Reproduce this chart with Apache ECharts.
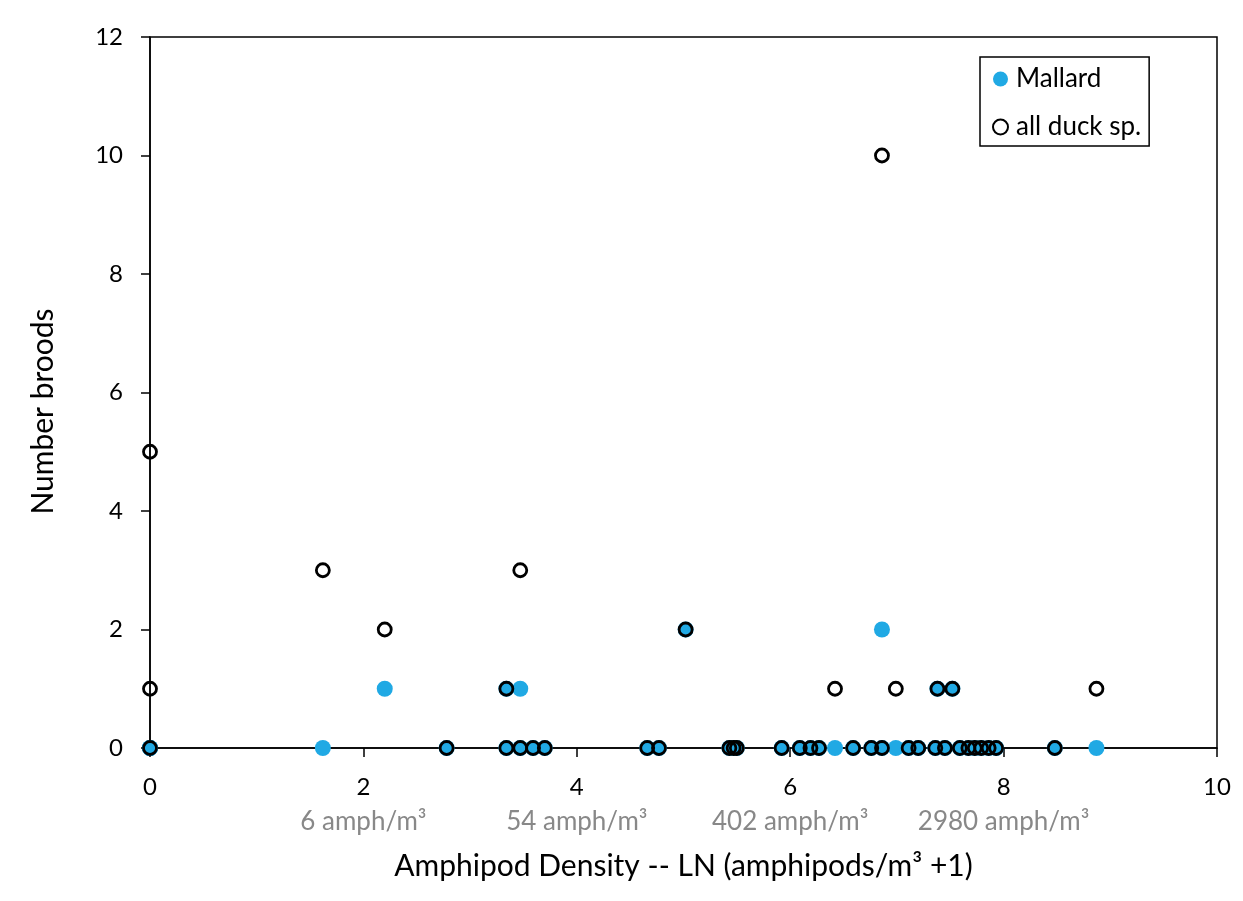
<!DOCTYPE html>
<html>
<head>
<meta charset="utf-8">
<script src="https://cdn.jsdelivr.net/npm/echarts@6/dist/echarts.min.js"></script>
<style>
html,body{margin:0;padding:0;background:#fff;}
#chart{width:1243px;height:901px;}
</style>
</head>
<body>
<div id="chart"></div>
<script>
// Per-site values: LN(amphipods/m3 + 1), Mallard broods, all duck broods
const siteX = [0, 0, 0, 1.62, 2.20, 2.78, 3.34, 3.34, 3.47, 3.47, 3.59, 3.70, 4.66, 4.77, 5.02,
  5.43, 5.47, 5.50, 5.92, 6.09, 6.19, 6.27, 6.42, 6.59, 6.76, 6.86, 6.86, 6.99, 7.11, 7.20,
  7.36, 7.45, 7.38, 7.52, 7.59, 7.67, 7.73, 7.79, 7.86, 7.93, 8.48, 8.87];
const mallardBroods = [0, 0, 0, 0, 1, 0, 1, 0, 1, 0, 0, 0, 0, 0, 2,
  0, 0, 0, 0, 0, 0, 0, 0, 0, 0, 0, 2, 0, 0, 0,
  0, 0, 1, 1, 0, 0, 0, 0, 0, 0, 0, 0];
const allDuckBroods = [5, 1, 0, 3, 2, 0, 1, 0, 3, 0, 0, 0, 0, 0, 2,
  0, 0, 0, 0, 0, 0, 0, 1, 0, 0, 0, 10, 1, 0, 0,
  0, 0, 1, 1, 0, 0, 0, 0, 0, 0, 0, 1];
const seriesNames = ['Mallard', 'all duck sp.'];
const xTickNotes = {2: '6 amph/m³', 4: '54 amph/m³', 6: '402 amph/m³', 8: '2980 amph/m³'};
const xTitle = 'Amphipod Density -- LN (amphipods/m³ +1)';
const yTitle = 'Number broods';

const FONT = 'Lato';
const chart = echarts.init(document.getElementById('chart'));
const mallardData = siteX.map((x, i) => [x, mallardBroods[i]]);
const allData = siteX.map((x, i) => [x, allDuckBroods[i]]);

const baseX = {type: 'value', min: 0, max: 10, interval: 2, gridIndex: 0};
const baseY = {type: 'value', min: 0, max: 12, interval: 2, gridIndex: 0};

chart.setOption({
  animation: false,
  backgroundColor: '#fff',
  textStyle: {fontFamily: FONT},
  grid: {left: 150, right: 26, top: 37, bottom: 153, show: true, borderColor: '#000', borderWidth: 1.5, backgroundColor: 'transparent'},
  legend: {
    orient: 'vertical', left: 980, top: 57,
    borderColor: '#000', borderWidth: 1.5, padding: [9, 8, 6, 12],
    itemGap: 22, itemWidth: 15, itemHeight: 15,
    textStyle: {fontFamily: FONT, fontSize: 26, color: '#000', padding: [0, 0, 0, 3]},
    data: [
      {name: seriesNames[0], icon: 'circle'},
      {name: seriesNames[1], icon: 'circle'}
    ]
  },
  xAxis: [
    Object.assign({}, baseX, {
      name: xTitle, nameLocation: 'middle', nameGap: 103,
      nameTextStyle: {fontFamily: FONT, fontSize: 30, color: '#000'},
      axisLine: {show: true, onZero: false, lineStyle: {color: '#000', width: 1.5}},
      axisTick: {show: true, inside: false, length: 9, lineStyle: {color: '#000', width: 1.5}},
      splitLine: {show: false},
      axisLabel: {
        margin: 26, color: '#000', fontFamily: FONT, fontSize: 24,
        formatter: v => xTickNotes[v] ? '{n|' + v + '}\n{g|' + xTickNotes[v] + '}' : '{n|' + v + '}',
        rich: {
          n: {fontFamily: FONT, fontSize: 24, color: '#000', lineHeight: 26},
          g: {fontFamily: FONT, fontSize: 26, color: '#888', lineHeight: 44}
        }
      }
    }),
    Object.assign({}, baseX, {
      axisLine: {show: false}, axisLabel: {show: false}, splitLine: {show: false},
      axisTick: {show: true, inside: true, length: 9, lineStyle: {color: '#000', width: 1.5}}
    })
  ],
  yAxis: [
    Object.assign({}, baseY, {
      name: yTitle, nameLocation: 'middle', nameGap: 92, nameRotate: 90,
      nameTextStyle: {fontFamily: FONT, fontSize: 30, color: '#000', padding: [0, 38, 0, 0]},
      axisLine: {show: true, onZero: false, lineStyle: {color: '#000', width: 1.5}},
      axisTick: {show: true, inside: false, length: 9, lineStyle: {color: '#000', width: 1.5}},
      splitLine: {show: false},
      axisLabel: {margin: 27, color: '#000', fontFamily: FONT, fontSize: 24}
    }),
    Object.assign({}, baseY, {
      axisLine: {show: false}, axisLabel: {show: false}, splitLine: {show: false},
      axisTick: {show: true, inside: true, length: 9, lineStyle: {color: '#000', width: 1.5}}
    })
  ],
  series: [
    {
      name: seriesNames[0], type: 'scatter', xAxisIndex: 0, yAxisIndex: 0,
      data: mallardData, symbol: 'circle', symbolSize: 16,
      itemStyle: {color: '#20a9e4', opacity: 1}, z: 3
    },
    {
      name: seriesNames[1], type: 'scatter', xAxisIndex: 0, yAxisIndex: 0,
      data: allData, symbol: 'circle', symbolSize: 13,
      itemStyle: {color: 'rgba(0,0,0,0)', borderColor: '#000', borderWidth: 2.8, opacity: 1}, z: 4
    }
  ]
});
</script>
</body>
</html>
